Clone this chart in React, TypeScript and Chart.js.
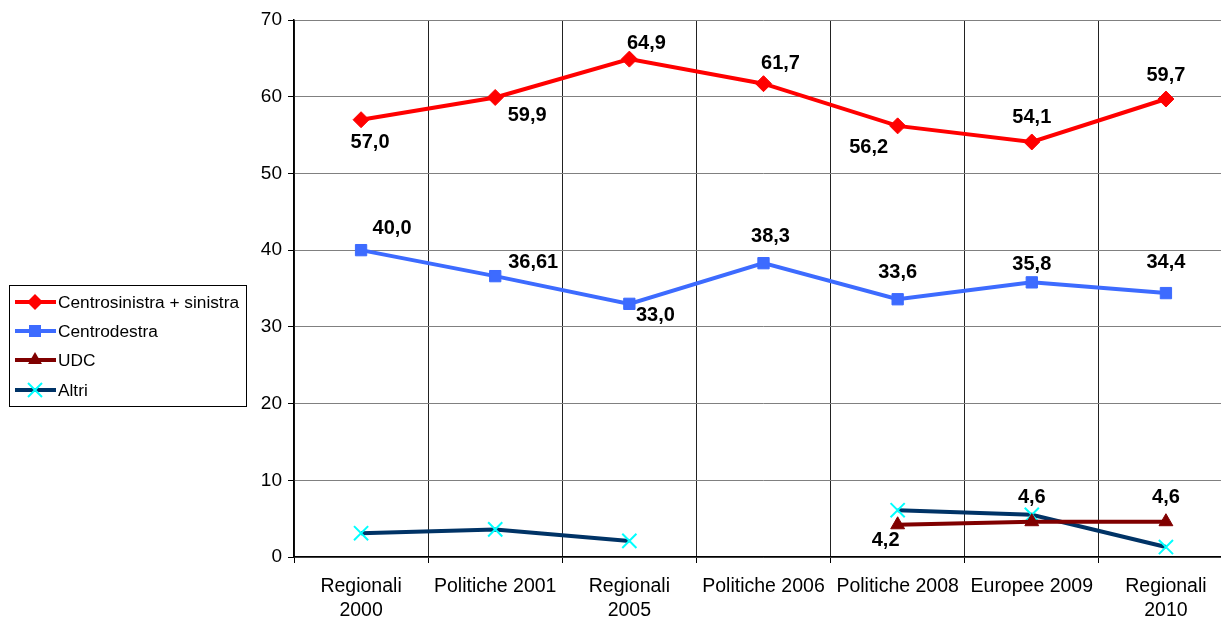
import React, { useEffect, useRef } from "react";
import { Chart, registerables } from "chart.js";

Chart.register(...registerables);

const categories: (string | string[])[] = [
  ["Regionali", "2000"],
  "Politiche 2001",
  ["Regionali", "2005"],
  "Politiche 2006",
  "Politiche 2008",
  "Europee 2009",
  ["Regionali", "2010"],
];

const centrosinistra = [57.0, 59.9, 64.9, 61.7, 56.2, 54.1, 59.7];
const centrodestra = [40.0, 36.61, 33.0, 38.3, 33.6, 35.8, 34.4];
const udc = [null, null, null, null, 4.2, 4.6, 4.6];
const altri = [3.1, 3.6, 2.1, null, 6.1, 5.5, 1.3];

// label offsets (dx, dy) relative to point, style only
const csOffsets = [[9, 23], [32, 18], [17, -16], [17, -20], [-29, 22], [0, -24], [0, -24]];
const cdOffsets = [[31, -22], [38, -14], [26, 12], [7, -27], [0, -27], [0, -18], [0, -31]];
const udcOffsets = [null, null, null, null, [-12, 16], [0, -24], [0, -24]];

const FONT = "'Liberation Sans', Arial, sans-serif";

const fmt = (v: number) =>
  Math.abs(v * 10 - Math.round(v * 10)) < 1e-6 ? v.toFixed(1).replace(".", ",") : v.toFixed(2).replace(".", ",");

const labelPlugin = {
  id: "valueLabels",
  afterDatasetsDraw(chart: any) {
    const ctx = chart.ctx;
    ctx.save();
    ctx.font = `bold 20px ${FONT}`;
    ctx.fillStyle = "#000";
    ctx.textAlign = "center";
    ctx.textBaseline = "middle";
    const sets: [number, any[]][] = [
      [0, csOffsets],
      [1, cdOffsets],
      [2, udcOffsets],
    ];
    sets.forEach(([di, offs]) => {
      const meta = chart.getDatasetMeta(di);
      const data = chart.data.datasets[di].data;
      meta.data.forEach((pt: any, i: number) => {
        const v = data[i];
        if (v == null || !offs[i]) return;
        ctx.fillText(fmt(v), pt.x + offs[i][0], pt.y + offs[i][1]);
      });
    });
    ctx.restore();
  },
};

function drawMarker(ctx: CanvasRenderingContext2D, ds: any, x: number, y: number) {
  const r = ds.pointRadius;
  ctx.save();
  ctx.fillStyle = ds.pointBackgroundColor;
  ctx.strokeStyle = ds.pointBorderColor;
  ctx.lineWidth = ds.pointBorderWidth;
  ctx.beginPath();
  if (ds.pointStyle === "rectRot") {
    ctx.moveTo(x, y - r);
    ctx.lineTo(x + r, y);
    ctx.lineTo(x, y + r);
    ctx.lineTo(x - r, y);
    ctx.closePath();
    ctx.fill();
  } else if (ds.pointStyle === "rect") {
    const s = r * 0.75;
    ctx.rect(x - s, y - s, 2 * s, 2 * s);
    ctx.fill();
  } else if (ds.pointStyle === "triangle") {
    ctx.moveTo(x, y - r);
    ctx.lineTo(x + r * 0.87, y + r * 0.5);
    ctx.lineTo(x - r * 0.87, y + r * 0.5);
    ctx.closePath();
    ctx.fill();
  } else {
    const d = r * 0.7;
    ctx.moveTo(x - d, y - d);
    ctx.lineTo(x + d, y + d);
    ctx.moveTo(x + d, y - d);
    ctx.lineTo(x - d, y + d);
    ctx.stroke();
  }
  ctx.restore();
}

const legendPlugin = {
  id: "boxLegend",
  afterDraw(chart: any) {
    const ctx = chart.ctx;
    ctx.save();
    ctx.strokeStyle = "#000";
    ctx.lineWidth = 1;
    ctx.fillStyle = "#fff";
    ctx.fillRect(9.5, 285.5, 237, 121);
    ctx.strokeRect(9.5, 285.5, 237, 121);
    const ys = [302, 331, 360, 390];
    chart.data.datasets.forEach((ds: any, i: number) => {
      const y = ys[i];
      ctx.strokeStyle = ds.borderColor;
      ctx.lineWidth = 4;
      ctx.beginPath();
      ctx.moveTo(15, y);
      ctx.lineTo(56, y);
      ctx.stroke();
      drawMarker(ctx, ds, 35, y);
      ctx.fillStyle = "#000";
      ctx.font = `17.3px ${FONT}`;
      ctx.textAlign = "left";
      ctx.textBaseline = "middle";
      ctx.fillText(ds.label, 58, y + 1);
    });
    ctx.restore();
  },
};

export default function App() {
  const ref = useRef<HTMLCanvasElement>(null);
  useEffect(() => {
    document.body.style.margin = "0";
    document.body.style.overflow = "hidden";
    const chart = new Chart(ref.current!, {
      type: "line",
      data: {
        labels: categories,
        datasets: [
          {
            label: "Centrosinistra + sinistra",
            data: centrosinistra,
            borderColor: "#FF0000",
            backgroundColor: "#FF0000",
            borderWidth: 4,
            pointStyle: "rectRot",
            pointRadius: 8,
            pointBackgroundColor: "#FF0000",
            pointBorderColor: "#FF0000",
            pointBorderWidth: 1,
          },
          {
            label: "Centrodestra",
            data: centrodestra,
            borderColor: "#3D6BFF",
            backgroundColor: "#3D6BFF",
            borderWidth: 4,
            pointStyle: "rect",
            pointRadius: 8,
            pointBackgroundColor: "#3D6BFF",
            pointBorderColor: "#3D6BFF",
            pointBorderWidth: 1,
          },
          {
            label: "UDC",
            data: udc,
            borderColor: "#800000",
            backgroundColor: "#800000",
            borderWidth: 4,
            pointStyle: "triangle",
            pointRadius: 8,
            pointBackgroundColor: "#800000",
            pointBorderColor: "#800000",
            pointBorderWidth: 1,
          },
          {
            label: "Altri",
            data: altri,
            borderColor: "#003366",
            backgroundColor: "#00FFFF",
            borderWidth: 4,
            pointStyle: "crossRot",
            pointRadius: 10,
            pointBackgroundColor: "#00FFFF",
            pointBorderColor: "#00FFFF",
            pointBorderWidth: 2,
          },
        ] as any,
      },
      options: {
        animation: false,
        responsive: false,
        maintainAspectRatio: false,
        spanGaps: false,
        layout: { padding: { left: 250, top: 20, right: 11, bottom: 0 } },
        plugins: {
          legend: { display: false },
          tooltip: { enabled: false },
        },
        elements: { line: { tension: 0 } },
        scales: {
          x: {
            type: "category",
            offset: true,
            grid: {
              display: true,
              offset: true,
              color: "#222",
              lineWidth: 1,
              tickLength: 6,
              tickColor: "#000",
            },
            border: { color: "#000", width: 1.5 },
            ticks: {
              color: "#000",
              font: { family: FONT, size: 19.5, lineHeight: 1.25 },
              maxRotation: 0,
              autoSkip: false,
              padding: 11,
            },
            afterFit: (s: any) => {
              s.height = 63;
            },
          },
          y: {
            min: 0,
            max: 70,
            ticks: {
              stepSize: 10,
              color: "#000",
              font: { family: FONT, size: 19 },
              padding: 6,
            },
            grid: {
              color: "#808080",
              lineWidth: 1,
              tickLength: 6,
              tickColor: "#000",
            },
            border: { color: "#000", width: 1.5 },
            afterFit: (s: any) => {
              s.width = 44;
            },
          },
        },
      },
      plugins: [labelPlugin, legendPlugin],
    });
    return () => chart.destroy();
  }, []);
  return (
    <div style={{ position: "absolute", left: 0, top: 0, width: 1245, height: 620, overflow: "hidden" }}>
      <canvas ref={ref} width={1245} height={620} style={{ width: 1245, height: 620 }} />
    </div>
  );
}
